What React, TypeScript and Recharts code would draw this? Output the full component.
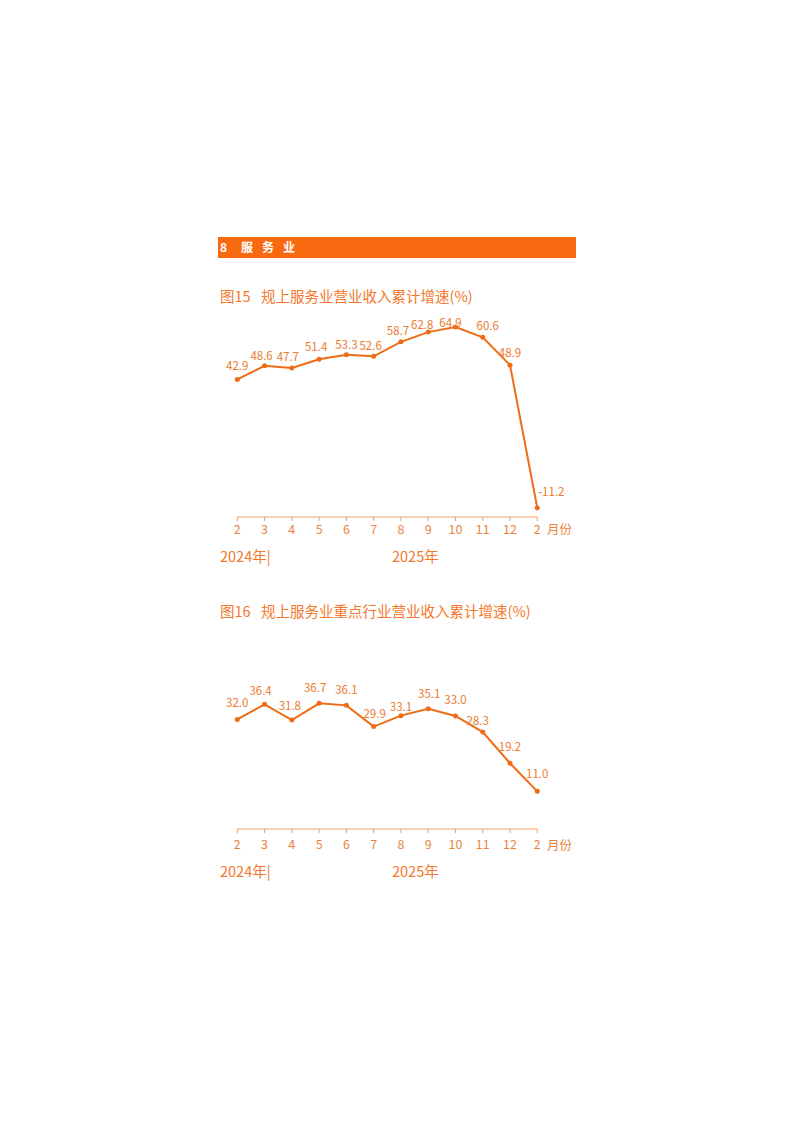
import React from 'react';
import { LineChart, Line, XAxis, YAxis, LabelList } from 'recharts';

const months = ['2', '3', '4', '5', '6', '7', '8', '9', '10', '11', '12', '2'];
const revenueGrowth = [42.9, 48.6, 47.7, 51.4, 53.3, 52.6, 58.7, 62.8, 64.9, 60.6, 48.9, -11.2];
const keyIndustryGrowth = [32.0, 36.4, 31.8, 36.7, 36.1, 29.9, 33.1, 35.1, 33.0, 28.3, 19.2, 11.0];

const LINE = '#ef6c16';
const LABEL = '#ea7a2e';
const AXIS = '#f2a166';
const TITLE = '#f4772a';
const FONT = '"Noto Sans CJK SC", "Noto Sans", sans-serif';

// label nudges [dx, dy] relative to the point
const offsets15: [number, number][] = [
  [0, -14], [-3, -11], [-4, -12], [-3, -13], [0, -11], [-3, -11],
  [-3, -12], [-6, -8], [-5, -5], [5, -12], [0, -13], [14, -17],
];
const offsets16: [number, number][] = [
  [0, -17], [-4, -14], [-2, -15], [-4, -16], [0, -16], [1, -14],
  [0, -10], [1, -16], [0, -17], [-5, -12], [0, -17], [0, -18],
];

const makeLabel = (offs: [number, number][]) => (props: any) => {
  const { x, y, value, index } = props;
  const [dx, dy] = offs[index] ?? [0, -12];
  return (
    <text
      x={x + dx}
      y={y + dy}
      textAnchor="middle"
      dominantBaseline="central"
      fontSize={11.5}
      fill={LABEL}
      fontFamily={FONT}
    >
      {Number(value).toFixed(1)}
    </text>
  );
};

const toRows = (vals: number[]) => vals.map((v, i) => ({ k: i, v }));

const txt = (left: number, top: number, s: string, size = 14, color = TITLE, extra: React.CSSProperties = {}) => (
  <div
    style={{
      position: 'absolute',
      left,
      top,
      fontSize: size,
      color,
      fontFamily: FONT,
      lineHeight: 1,
      whiteSpace: 'pre',
      ...extra,
    }}
  >
    {s}
  </div>
);

function MonthChart({ top, height, marginTop, marginBottom, tickGap, values, domain, offsets }: {
  top: number; height: number; marginTop: number; marginBottom: number; tickGap: number;
  values: number[]; domain: [number, number]; offsets: [number, number][];
}) {
  return (
    <div style={{ position: 'absolute', left: 200, top }}>
      <LineChart
        width={400}
        height={height}
        data={toRows(values)}
        margin={{ top: marginTop, right: 62.7, left: 37.3, bottom: marginBottom }}
      >
        <XAxis
          dataKey="k"
          type="category"
          tickFormatter={(i: number) => months[i]}
          interval={0}
          height={30}
          stroke={AXIS}
          tickSize={4}
          tickMargin={tickGap}
          tick={{ fontSize: 12.5, fill: '#e9833e', fontFamily: FONT }}
          tickLine={{ stroke: AXIS }}
          padding={{ left: 0, right: 0 }}
        />
        <YAxis hide domain={domain} />
        <Line
          dataKey="v"
          stroke={LINE}
          strokeWidth={2}
          dot={{ r: 2.5, fill: LINE, stroke: LINE, strokeWidth: 0 }}
          isAnimationActive={false}
        >
          <LabelList dataKey="v" content={makeLabel(offsets)} />
        </Line>
      </LineChart>
    </div>
  );
}

export default function App() {
  const bold: React.CSSProperties = { fontWeight: 700 };
  return (
    <div style={{ position: 'absolute', left: 0, top: 0, width: 794, height: 1123, background: '#fff' }}>
      <div style={{ position: 'absolute', left: 218, top: 237, width: 358, height: 21, background: '#f96a10' }} />
      {txt(220, 241, '8', 12, '#fff', bold)}
      {txt(241, 241, '服', 12, '#fff', bold)}
      {txt(262, 241, '务', 12, '#fff', bold)}
      {txt(283, 241, '业', 12, '#fff', bold)}

      {txt(220, 289, '图15', 14.5)}
      {txt(261, 289, '规上服务业营业收入累计增速(%)', 14.5)}
      <MonthChart top={300} height={260} marginTop={15} marginBottom={13} tickGap={4} values={revenueGrowth} domain={[-15, 70]} offsets={offsets15} />
      {txt(547, 523, '月份', 12.5, '#e9833e')}
      {txt(220, 549, '2024年|', 14.5)}
      {txt(392, 549, '2025年', 14.5)}

      {txt(220, 604, '图16', 14.5)}
      {txt(261, 604, '规上服务业重点行业营业收入累计增速(%)', 14.5)}
      <MonthChart top={670} height={200} marginTop={22} marginBottom={11} tickGap={7} values={keyIndustryGrowth} domain={[0, 40]} offsets={offsets16} />
      {txt(547, 839, '月份', 12.5, '#e9833e')}
      {txt(220, 864, '2024年|', 14.5)}
      {txt(392, 864, '2025年', 14.5)}
    </div>
  );
}
